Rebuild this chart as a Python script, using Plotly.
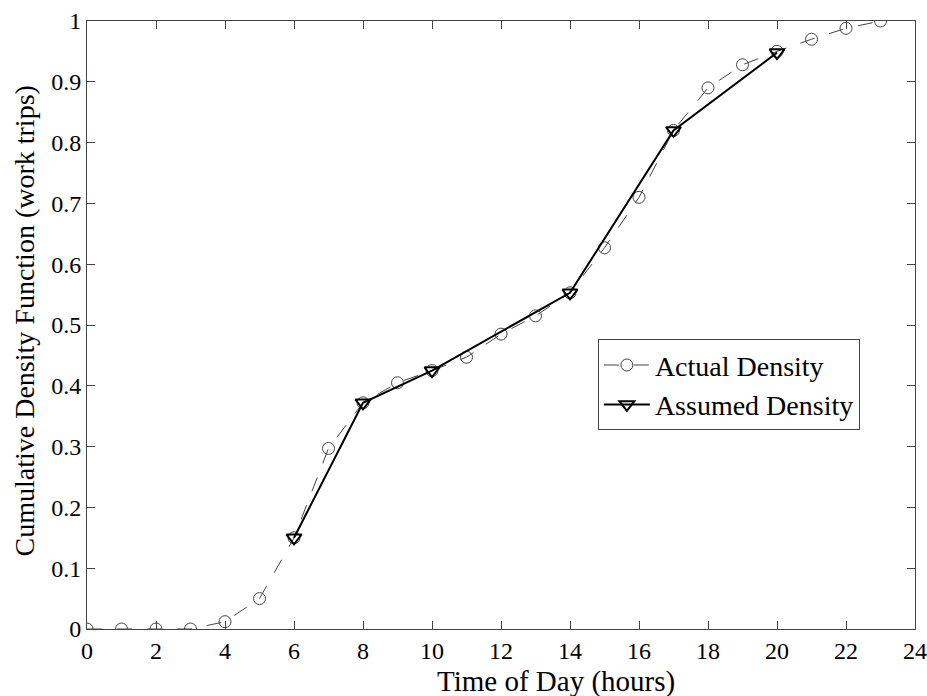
import plotly.graph_objects as go

hours_actual = list(range(24))
cdf_actual = [0, 0, 0, 0, 0.012, 0.05, 0.15, 0.297, 0.372, 0.405, 0.425, 0.447,
              0.485, 0.515, 0.553, 0.627, 0.71, 0.82, 0.89, 0.928, 0.95, 0.97, 0.988, 1.0]
hours_assumed = [6, 8, 10, 14, 17, 20]
cdf_assumed = [0.15, 0.372, 0.425, 0.553, 0.82, 0.948]

x_ticks = list(range(0, 25, 2))
y_ticks = [i / 10 for i in range(11)]
y_tick_labels = ["0", "0.1", "0.2", "0.3", "0.4", "0.5", "0.6", "0.7", "0.8", "0.9", "1"]

fig = go.Figure()
fig.add_trace(go.Scatter(
    x=hours_actual, y=cdf_actual, name="Actual Density",
    mode="lines+markers",
    line=dict(color="#444444", width=1, dash="longdash"),
    marker=dict(symbol="circle-open", size=12, color="#444444", line=dict(width=1)),
))
fig.add_trace(go.Scatter(
    x=hours_assumed, y=cdf_assumed, name="Assumed Density",
    mode="lines+markers",
    line=dict(color="black", width=2),
    marker=dict(symbol="triangle-down-open", size=13, color="black", line=dict(width=2)),
))

font = "Liberation Serif, Times New Roman, serif"
fig.update_layout(
    width=927, height=696, autosize=False,
    margin=dict(l=87, r=12, t=21, b=67, pad=0, autoexpand=False),
    paper_bgcolor="white", plot_bgcolor="white",
    font=dict(family=font, size=24, color="black"),
    showlegend=True,
    legend=dict(x=0.617, y=0.4765, xanchor="left", yanchor="top",
                bgcolor="white", bordercolor="#444444", borderwidth=1,
                font=dict(size=28, family=font), tracegroupgap=0, itemwidth=46),
    xaxis=dict(range=[0, 24], tickvals=x_ticks, ticks="inside", ticklen=8,
               mirror="ticks", showline=True, linecolor="#444444", linewidth=1,
               showgrid=False, zeroline=False, tickfont=dict(size=24), automargin=False),
    yaxis=dict(range=[0, 1], tickvals=y_ticks, ticktext=y_tick_labels, ticks="inside",
               ticklen=8, mirror="ticks", showline=True, linecolor="#444444", linewidth=1,
               showgrid=False, zeroline=False, tickfont=dict(size=24), automargin=False),
    annotations=[
        dict(text="Time of Day (hours)", xref="paper", yref="paper",
             x=0.566, y=-0.0864, xanchor="center", yanchor="middle",
             showarrow=False, font=dict(size=29, family=font)),
        dict(text="Cumulative Density Function (work trips)", xref="paper", yref="paper",
             x=-0.076, y=0.506, xanchor="center", yanchor="middle", textangle=-90,
             showarrow=False, font=dict(size=28, family=font)),
    ],
)
fig.write_html("out.html")
